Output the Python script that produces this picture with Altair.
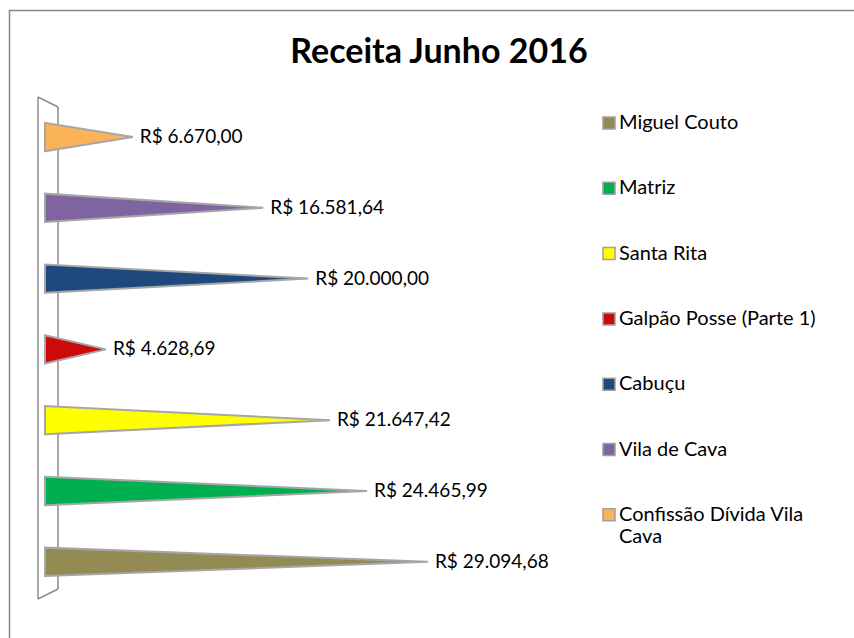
import altair as alt
import pandas as pd

# ---- data ----
names = ["Miguel Couto", "Matriz", "Santa Rita", "Galpão Posse (Parte 1)",
         "Cabuçu", "Vila de Cava", "Confissão Dívida Vila Cava"]
values = [29094.68, 24465.99, 21647.42, 4628.69, 20000.00, 16581.64, 6670.00]
colors = ["#948A54", "#00B050", "#FFFF00", "#CC0A0A", "#1F497D", "#8064A2", "#FBB35A"]


def brl(v):
    s = f"{v:,.2f}".replace(",", "X").replace(".", ",").replace("X", ".")
    return "R$ " + s


# polygon table for the cone-like bars
rows = []
for k, (n, v) in enumerate(zip(names, values)):
    rows.append({"serie": n, "px": 0.0, "lo": k - 0.2, "hi": k + 0.2})
    rows.append({"serie": n, "px": v, "lo": float(k), "hi": float(k)})
poly = pd.DataFrame(rows)

lab = pd.DataFrame({"serie": names, "value": values, "k": list(range(len(names))),
                    "label": [brl(v) for v in values]})

FONT = "Lato"
xscale = alt.Scale(domain=[0, 35000], range=[45, 505.7], nice=False, zero=False)
yscale = alt.Scale(domain=[-0.5, 6.5], range=[597.2, 101.6], nice=False, zero=False)

color = alt.Color(
    "serie:N",
    scale=alt.Scale(domain=names, range=colors),
    legend=alt.Legend(
        title=None, orient="none", legendX=599, legendY=113,
        symbolType="square", symbolSize=144, symbolOpacity=1,
        symbolStrokeColor="#a0a0a0", symbolStrokeWidth=1.5,
        labelFont=FONT, labelFontSize=20, labelColor="#000000",
        labelOffset=0, rowPadding=45.3, padding=0, labelLimit=300,
        labelExpr="datum.label == 'Confissão Dívida Vila Cava' ? ['Confissão Dívida Vila', 'Cava'] : datum.label",
    ),
)

bars = alt.Chart(poly).mark_area(
    orient="vertical", stroke="#a6a6a6", strokeWidth=2, opacity=1, strokeJoin="miter"
).encode(
    x=alt.X("px:Q", scale=xscale, axis=None, stack=None),
    y=alt.Y("lo:Q", scale=yscale, axis=None, stack=None),
    y2="hi:Q",
    color=color,
    detail="serie:N",
)

labels = alt.Chart(lab).mark_text(
    align="left", baseline="middle", dx=7, font=FONT, fontSize=19, color="#000000"
).encode(
    x=alt.X("value:Q", scale=xscale, axis=None),
    y=alt.Y("k:Q", scale=yscale, axis=None),
    text="label:N",
)


def seg(x1, y1, x2, y2, c="#8c8c8c", w=1.5):
    return alt.Chart(pd.DataFrame({"a": [0]})).mark_rule(color=c, strokeWidth=w).encode(
        x=alt.value(x1), y=alt.value(y1), x2=alt.value(x2), y2=alt.value(y2)
    )


frame = [seg(9.5, 10, 9.5, 638, "#868686", 1.5), seg(9, 10.5, 854, 10.5, "#868686", 1.5)]
wall = [seg(38, 97, 38, 599), seg(58, 107, 58, 589), seg(38, 97, 58, 107), seg(38, 599, 58, 589)]

chart = alt.layer(*frame, *wall, bars, labels).properties(
    width=854, height=638,
    autosize=alt.AutoSizeParams(type="none"),
    padding=0,
    title=alt.TitleParams(
        "Receita Junho 2016", font=FONT, fontSize=34, fontWeight="bold", color="#000000",
        anchor="middle", baseline="alphabetic", offset=0, dy=97, dx=12,
    ),
).configure_view(stroke=None)

chart.save("out.html", embed_options={"renderer": "svg", "actions": False})
